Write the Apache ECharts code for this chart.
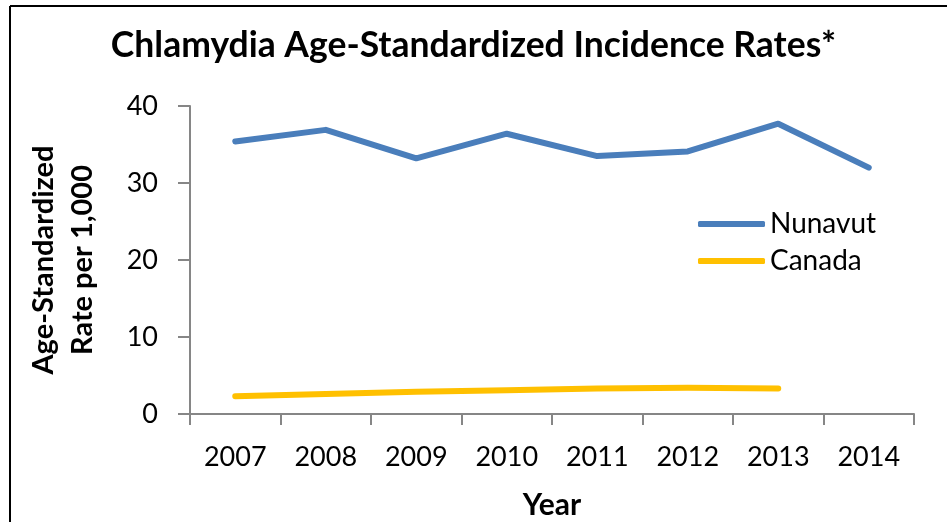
<!DOCTYPE html>
<html>
<head>
<meta charset="utf-8">
<script src="https://cdn.jsdelivr.net/npm/echarts@6/dist/echarts.min.js"></script>
<style>
  html, body { margin: 0; padding: 0; background: #fff; }
  #main { width: 947px; height: 522px; }
</style>
</head>
<body>
<div id="main"></div>
<script>
// chart data
var years = ['2007', '2008', '2009', '2010', '2011', '2012', '2013', '2014'];
var nunavut = [35.4, 36.9, 33.2, 36.4, 33.5, 34.1, 37.7, 32.0];
var canada = [2.3, 2.6, 2.9, 3.1, 3.3, 3.4, 3.3, null];
var yTicks = [0, 10, 20, 30, 40];

var font = 'Lato';
var axisGray = '#868686';

var chart = echarts.init(document.getElementById('main'));
chart.setOption({
    backgroundColor: '#fff',
    animation: false,
    title: {
        text: 'Chlamydia Age-Standardized Incidence Rates*',
        left: 'center',
        top: 23,
        textStyle: { fontFamily: font, fontSize: 35.5, fontWeight: 'bold', color: '#000' }
    },
    legend: {
        orient: 'vertical',
        left: 693,
        top: 205,
        itemWidth: 67,
        itemHeight: 6,
        itemGap: 9,
        textStyle: { fontFamily: font, fontSize: 28, color: '#000', lineHeight: 26 },
        data: [
            { name: 'Nunavut', icon: 'roundRect' },
            { name: 'Canada', icon: 'roundRect' }
        ]
    },
    grid: { left: 190, right: 33, top: 106, bottom: 108, outerBoundsMode: 'none', containLabel: false },
    xAxis: {
        type: 'category',
        data: years,
        boundaryGap: true,
        name: 'Year',
        nameLocation: 'middle',
        nameGap: 76,
        nameTextStyle: { fontFamily: font, fontSize: 30, fontWeight: 'bold', color: '#000' },
        axisLine: { lineStyle: { color: axisGray, width: 2 } },
        axisTick: { show: true, length: 11, lineStyle: { color: axisGray, width: 2 } },
        axisLabel: { fontFamily: font, fontSize: 27, color: '#000', margin: 30 }
    },
    yAxis: {
        type: 'value',
        min: yTicks[0],
        max: yTicks[yTicks.length - 1],
        interval: 10,
        name: 'Age-Standardized\nRate per 1,000',
        nameLocation: 'middle',
        nameGap: 88,
        nameTextStyle: { fontFamily: font, fontSize: 29, fontWeight: 'bold', color: '#000', lineHeight: 39 },
        axisLine: { show: true, lineStyle: { color: axisGray, width: 2 } },
        axisTick: { show: true, length: 12, lineStyle: { color: axisGray, width: 2 } },
        axisLabel: { fontFamily: font, fontSize: 27, color: '#000', margin: 32 },
        splitLine: { show: false }
    },
    series: [
        {
            name: 'Nunavut',
            type: 'line',
            data: nunavut,
            symbol: 'none',
            color: '#4a7ebb',
            lineStyle: { width: 6, color: '#4a7ebb', cap: 'round', join: 'round' }
        },
        {
            name: 'Canada',
            type: 'line',
            data: canada,
            symbol: 'none',
            color: '#ffc000',
            lineStyle: { width: 6, color: '#ffc000', cap: 'round', join: 'round' }
        }
    ],
    graphic: [
        { type: 'line', shape: { x1: 10, y1: 6, x2: 947, y2: 6 }, style: { stroke: '#000', lineWidth: 2 } },
        { type: 'line', shape: { x1: 10, y1: 6, x2: 10, y2: 522 }, style: { stroke: '#000', lineWidth: 2 } }
    ]
});
</script>
</body>
</html>
